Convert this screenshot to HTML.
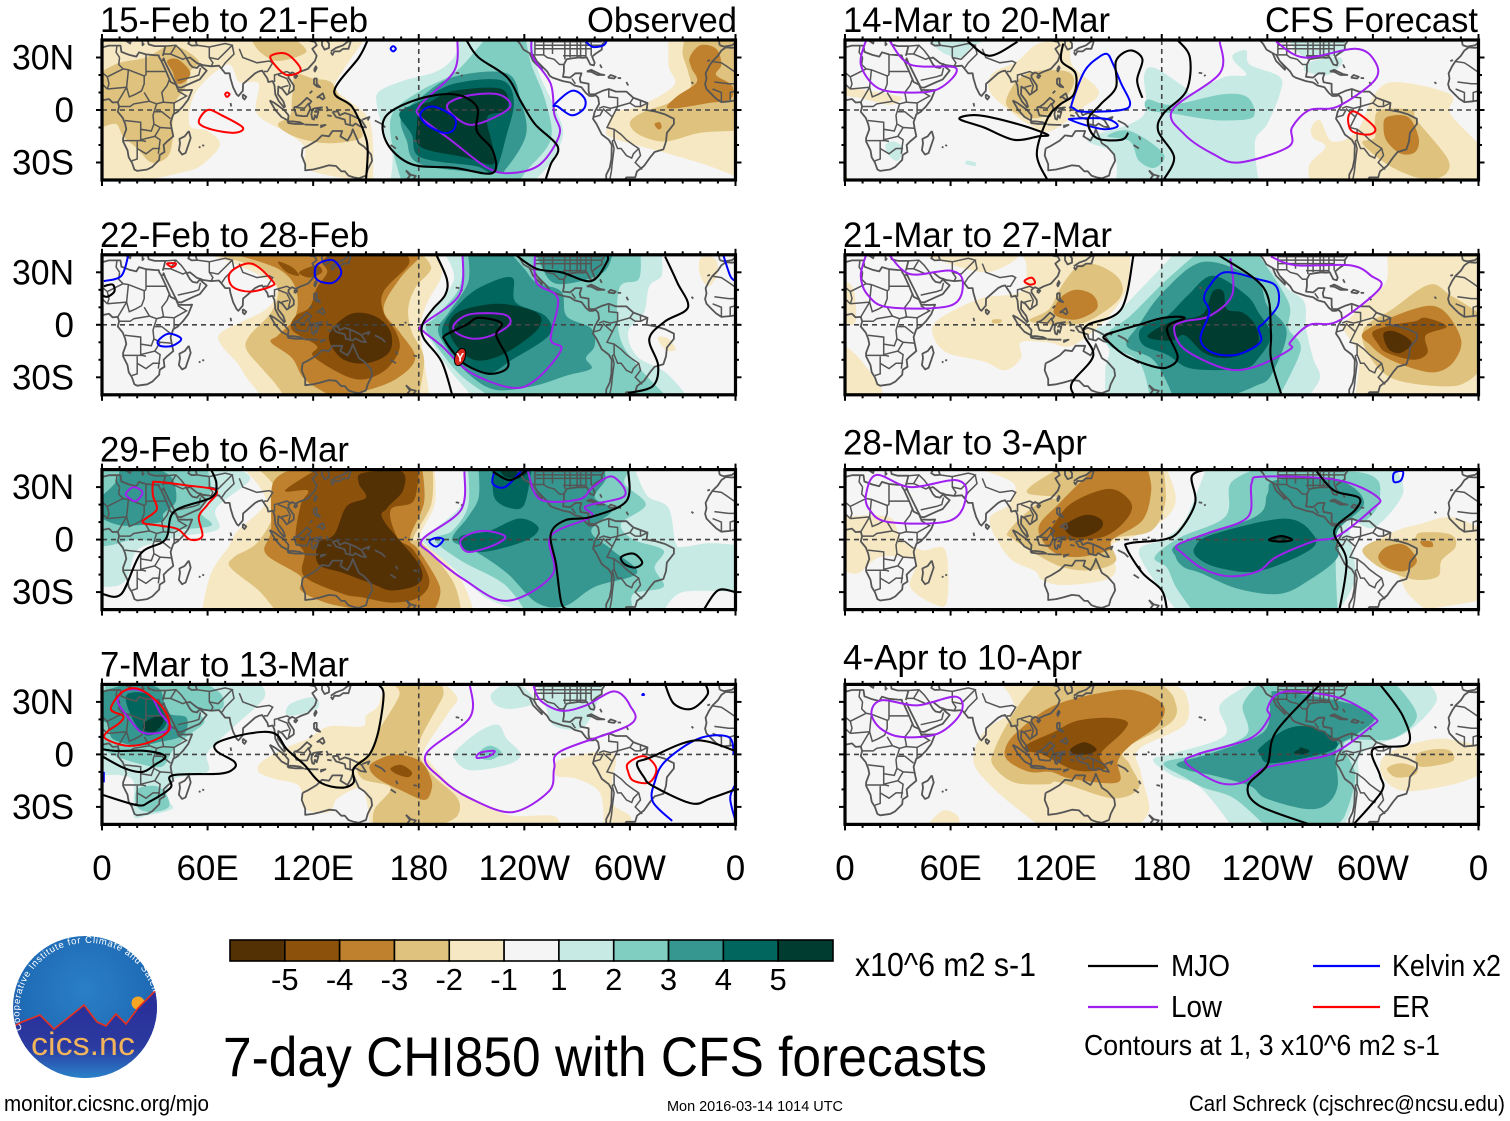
<!DOCTYPE html>
<html lang="en">
<head>
<meta charset="utf-8">
<title>7-day CHI850 with CFS forecasts</title>
<style>
html,body{margin:0;padding:0;background:#fff}
svg{display:block}
text{font-family:"Liberation Sans",sans-serif;fill:#000}
</style>
</head>
<body>
<svg id="chart" xmlns="http://www.w3.org/2000/svg" width="1510" height="1121" viewBox="0 0 1510 1121">
  <rect width="1510" height="1121" fill="#fff"/>
  <g id="panels"></g>

  <g id="colorbar"></g>
  <text x="855" y="976" font-size="33" textLength="181" lengthAdjust="spacingAndGlyphs">x10^6 m2 s-1</text>

  <g>
    <line x1="1088" y1="966" x2="1158" y2="966" stroke="#000" stroke-width="2.2"/>
    <text x="1171" y="976" font-size="31" textLength="59" lengthAdjust="spacingAndGlyphs">MJO</text>
    <line x1="1313" y1="966" x2="1380" y2="966" stroke="#0000ff" stroke-width="2.2"/>
    <text x="1392" y="976" font-size="31" textLength="109" lengthAdjust="spacingAndGlyphs">Kelvin x2</text>
    <line x1="1088" y1="1007" x2="1158" y2="1007" stroke="#a020f0" stroke-width="2.2"/>
    <text x="1171" y="1017" font-size="31" textLength="51" lengthAdjust="spacingAndGlyphs">Low</text>
    <line x1="1313" y1="1007" x2="1380" y2="1007" stroke="#ff0000" stroke-width="2.2"/>
    <text x="1392" y="1017" font-size="31" textLength="38" lengthAdjust="spacingAndGlyphs">ER</text>
    <text x="1084" y="1055" font-size="29" textLength="356" lengthAdjust="spacingAndGlyphs">Contours at 1, 3 x10^6 m2 s-1</text>
  </g>

  <text x="223" y="1076" font-size="56" textLength="764" lengthAdjust="spacingAndGlyphs">7-day CHI850 with CFS forecasts</text>
  <text x="4" y="1111" font-size="22" textLength="205" lengthAdjust="spacingAndGlyphs">monitor.cicsnc.org/mjo</text>
  <text x="667" y="1111" font-size="14.5" textLength="176" lengthAdjust="spacingAndGlyphs">Mon 2016-03-14 1014 UTC</text>
  <text x="1189" y="1111" font-size="22" textLength="316" lengthAdjust="spacingAndGlyphs">Carl Schreck (cjschrec@ncsu.edu)</text>

  <g>
    <defs>
      <clipPath id="logo-clip"><ellipse cx="85" cy="1007" rx="72" ry="71"/></clipPath>
      <radialGradient id="logo-sky" cx="50%" cy="40%" r="60%">
        <stop offset="0" stop-color="#2a7fc6"/>
        <stop offset="0.7" stop-color="#1f6cb6"/>
        <stop offset="1" stop-color="#2f52a8"/>
      </radialGradient>
      <linearGradient id="logo-ground" x1="0" y1="0" x2="0" y2="1">
        <stop offset="0" stop-color="#2a2c96"/>
        <stop offset="0.65" stop-color="#2b3aa0"/>
        <stop offset="1" stop-color="#2a86cc"/>
      </linearGradient>
      <path id="logo-arc" d="M 22 1030 A 68 68 0 0 1 153 992"/>
    </defs>
    <g clip-path="url(#logo-clip)">
      <rect x="10" y="930" width="150" height="150" fill="url(#logo-sky)"/>
      <circle cx="138" cy="1003" r="6.5" fill="#f6a623"/>
      <path d="M10 1028 L22 1022 L40 1015 L54 1029 L68 1018 L84 1005 L97 1022 L106 1026 L116 1014 L126 1024 L138 1008 L160 986 L160 1080 L10 1080 Z" fill="url(#logo-ground)" stroke="#e8301f" stroke-width="1.6"/>
    </g>
    <text font-size="9.5" style="fill:#fff"><textPath href="#logo-arc" textLength="232">Cooperative Institute for Climate and Satellites</textPath></text>
    <text x="83" y="1055" text-anchor="middle" font-size="32" textLength="104" lengthAdjust="spacingAndGlyphs" style="fill:#f2b45a">cics.nc</text>
  </g>
</svg>

<script>
// ---------- axis labels and categories ----------
const panelTitles = ["15-Feb to 21-Feb","22-Feb to 28-Feb","29-Feb to 6-Mar","7-Mar to 13-Mar","14-Mar to 20-Mar","21-Mar to 27-Mar","28-Mar to 3-Apr","4-Apr to 10-Apr"];
const lonTicks = [0,60,120,180,240,300,360];
const lonTickLabels = ["0","60E","120E","180","120W","60W","0"];
const latTicks = [30,0,-30];
const latTickLabels = ["30N","0","30S"];
const colorLevels = [-6,-5,-4,-3,-2,0,2,3,4,5,6];
const colorbarLabels = ["-5","-4","-3","-2","-1","1","2","3","4","5"];
const fillColors = {"-5":"#543005","-4":"#8c510a","-3":"#bf812d","-2":"#dfc27d","-1":"#f6e8c3","0":"#f5f5f5","1":"#c7eae5","2":"#80cdc1","3":"#35978f","4":"#01665e","5":"#003c30"};

// ---------- map outlines, lon/lat ----------
const coastlines = [
[0,5.5,4,6.3,6,4.3,9,4.5,9.7,2,9,-1,11.8,-4.5,13.2,-8,13.8,-11,12,-16,12,-18,14.5,-23,15.2,-27,17,-30,18.4,-34,20,-34.8,25.7,-34,28.5,-32.5,32.5,-28.5,32.8,-25.7,35.5,-24,35,-20,37,-18,40.5,-15,39.5,-10,39,-7,40.5,-2.5,43,-1,46,2,49,6,51.2,11.5,48,11.3,43.3,11.5,42,14.5,39,16,37.3,20,36.5,22,34,27.5,33.5,28.5,32.5,30,32.3,31.2,30,31.3,25,31.8,21,33,19.5,30.5,15.5,31.5,11,33.2,10.5,36.8,4,36.8,0,35.8],
[360,5.5,357,5,352,4.5,349,6.5,346.5,9,343.5,12,342.7,14.7,343.5,18,343,21,345,25,347,28,350,31,352,34,354.5,35.8,358,35.5,360,35.8],
[34.5,28,35,29.5,36,27,39,21,41,17,43,13,45,12.8,52,16,55.5,17.5,59.5,22.5,56.5,25,56,26.3,54,24,51.5,24.5,50,26,48,29.5,50,30,54,26.8,57.5,25.6,62,25,66.5,25.3,68,23.5,70,21,72.5,21,73,18,74.5,13,76.5,9,77.5,8,80,11,80.2,15,82.5,17,87,21,89,22,91,22.5,94,18,94.5,16,97,16.5,98,14,98.5,9,100.5,5,103.5,1.5,104,2,103,5,100,9,100.2,13.4,102.5,12,105,8.7,109,11.5,109,14,106,18.5,106,20,108,21.5,110,20.5,113,22,117,23.5,121,28,122,31,119.5,35,122,37,121,39,118,39.5],
[125,40,125,37,126.5,34.5,129,35.5,129,38,127.5,40],
[130,33,131,31.5,132,33.5,135,33.5,137,35,140,35,141,38,141.5,40,139.5,39,137,37,133,35.5,130,33.5],
[26,40,26.5,37.5,30,36.5,36,36.5,35,32.5,34.5,31],[13,40,16,38,16.5,40],[23,40,23,37,24,38],[50,40,49,38,51,36.8,54,37,53,40],
[80,9,82,7.5,81,6,80,7,80,9],[120.5,23,121.5,25,122,24,121,22,120.5,23],[109,19,110,20,111,19.5,110,18.3,109,19],
[49.3,-12,50.4,-16,47.5,-24.5,45.5,-25.5,43.7,-23,44.3,-19,44,-16.5,47,-15,49.3,-12],
[120.5,18,122,18,122,15,124,13,122,13.5,120.5,15,120.5,18],[122,7,125.5,9.5,126.5,7,125.5,6,123.5,7.5,122,7],[118,9.5,119.5,11],
[109,1.5,111,2,113,3.5,116.5,7,119,5,117.5,3,118.5,1,116.5,-3.5,114,-3.5,110.5,-3,109,1.5],
[95.3,5.5,98,4,103.5,0,106,-3,105.7,-6,102,-4,98.5,0,95.3,5.5],
[105.3,-6.5,108.5,-6.5,112.5,-7,114.5,-8,110,-8,106,-7.5,105.3,-6.5],
[115,-8.3,120,-8.5,123,-8.5],[124,-9,127,-8.5,124,-10],
[119.5,0.5,121,1,125,1.5,122,0,121,-1,123,-1,122,-4.5,121,-3,120.5,-5.5,119.5,-5,119,-2.5,119.5,0.5],
[127.5,2,128.5,0,127.5,-0.5],[128,-3,130.5,-3.5],
[131,-1,134,-0.8,135,-3,138,-1.7,141,-2.7,145,-4.5,147.5,-6,150,-10,147,-9.5,144,-7.7,142.5,-9,138.5,-8,138,-5.5,133,-4,132,-2.5,131,-1],
[148,-5.5,152,-4,151,-6],[155,-6,159,-8,161,-10],[167,-15,168,-17],[164,-20,167,-22],[177,-17.5,179,-18],
[204,19.5,205,20],[201,21.3,203,21],[57,-20,58,-20.5],[55,-21,56,-21.5],[73,4,73.5,2],[172,1,173,1.5],
[114,-22,117,-20.5,122,-17.5,125,-14.5,129,-15,131,-12,136.5,-12,135.5,-15,139.5,-17.5,141.5,-14,142.5,-11,144,-14.5,146,-19,149,-21,153,-25.5,153.5,-29,151,-34,150,-37.5,146,-39,143,-38.5,140,-37.5,138,-35,136,-35,133,-32,129,-31.6,124,-33,120,-34,115.5,-34.5,115.5,-31,113.5,-26,114,-22],
[172.7,-34.5,175.5,-37,178.3,-37.7,177,-39.5,175,-40,173.8,-39,175,-37.5,172.7,-34.5],
[235.5,40,237.5,38,239.5,34.5,243,32.5,245,28,250,23,250,24.5,247,28,245.2,31.5,247,28,250,25,253,22,254.5,19.5,256,18.5,262,16.5,266,15.7,268.5,14,272.5,13,274,11,275,9.7,277,8,279,8,280.5,8.5,282,7,282.5,3.5,280,-1,279,-5,281,-8,284,-14,288,-17,289.7,-20,289.5,-28,288.5,-33,286.5,-37,286.5,-40],
[277,9,276.5,11,276.5,15,272,15.8,271.5,18,272.5,21,269,21,266,18.5,262,19,262.5,22,262.5,26,264,29,267,29.5,271,30,273,29.8,275.5,30,277.5,26,279.5,25.5,280,27,278.5,30.5,281,32.5,284,34.5,284,37,286,40],
[277,9,280,9,284.5,11,288,12,292,10.5,298,10.5,302,7,306,5.5,310,4,309.5,0,315,-1,320,-2.5,325,-5,325,-8,321,-13,320.5,-18,319,-22.5,314,-24,311.5,-27,308,-32,304,-35,303,-38.5,298,-38.5,297,-40],
[275.5,22,278,23,283,20.5,285.5,20,281.5,20,278,21.8,275.5,22],[287.5,18.5,289,20,292,19,291,18,287.5,18.5],[293,18.3,295,18.2],[283,26,284,24],[298,16,299,14],
[351,37,353.5,36.2,358,37,360,38.5],[350.5,40,351,37],[344,28,345.5,28.5],[335,16,336,15]
];
const borders = [
[25,31.5,25,20],[25,22,36.5,22],[25,20,24,19.5,15,23,12,23.5],[10,30,9.5,26,12,23.5],[8.5,37,8,33,10,30],[12,23.5,3,19,0,21.5],
[24,19.5,24,15,22.5,11,19,9,15.5,7.5,14,13,15,23],[24,10,27,5,31,3.5,35,4.5,34,10,37,14,38.5,18],[3,12,4,15,3,19],[3,12,14,13],[9,4.5,14,13],
[9.5,2,16,2,18,3.5,27,5],[31,3.5,29,-3,29.5,-8,28,-12,22,-11,22,-7,13,-6],[12,-17.5,23,-17.5,25,-18],[22,-11,22,-17,30,-15,33,-10,29.5,-8],
[30,-1,34,-1,39,-5],[33,-10,40,-10.5],[34,4.5,41,4,41,-2],[41,4,48,8,43,11],[30,-15,33,-17,32,-25],[20,-18,20,-28,17,-29],[20,-22,25,-25,29,-22,33,-22],
[0,21.5,0,15,3,12],[0,15,0,5.5],[360,21.5,355,25,352,27,347,27.7],[360,15,356,15,348,16],[347,12,352,10,352,5],[357,5,357,10,360,11],
[35,32,39,32,46,29,48,30],[36,36.5,42,37,45,34,48,30],[39,32,42,37],[43,17,52,19,55,20,56,24],[61,36,61,30,63,27,62,25],[61,36,70,38,74,37,70,33,66,29,61,30],
[74,37,75,32,70,27,68,24],[78,35,80,30,88,27,95,28,97,27,94,22,92,22],[98,16,98,20,100,20.5,105,22,107,21],[100,20,105,18,107,14,106,10],[102,13,106,14],[54,37,61,36],[110,1.5,115,1,117.5,4],[141,-2.7,141,-9],
[243,32.5,245,31.5,251,31.5,253,30,257,29,260,26,262.5,26],[246,37,284,37],[246,35,278,35],[262,31,275,31],[246,32,246,40],[251,31.5,251,40],[256,32,256,40],[263,29,263,40],[266,30,266,40],[270,30,270,40],[272,30,272,40],[275,30,275,40],[278,31,278,40],[246,39,284,39],
[267,18,269,15],[282.5,1,285,2,289,1,293,2,293,7,288,7.5,288,11.5],[279.5,-4,283,-3,285,0.5,290,-4,287,-10,291,-11,291,-17,289.7,-18],[293,2,300,4,302,7],[293,2,290,-4],
[291,-11,295,-14,298,-17,302,-20,305,-22,306,-26,303,-30,307,-34],[291,-17,293,-22,295,-22,298,-26,301,-27.5,302,-25,305,-22],[290,-18,291,-22,290,-30,289.5,-35,288.5,-40],[300,4,303,2,306,2,306,5.5],[310,4,306,2]
];

// ---------- panel 1: 15-Feb to 21-Feb ----------
const p1Fills = [
[-1,[0,40,0,-40,26,-40,44,-36,56,-32,67,-20,60,-12,50,-9,51,5,58,16,72,26,78,16,89,15,88,-2,105,-13,115,-21,116,-33,132,-38,149,-40,154,-40,154,-19,151,-4,138,7,132,13,138,24,149,40]],
[-1,[360,40,322,40,322,25,325,14,305,2,292,-1,287,-10,290,-16,322,-25,345,-32,360,-38]],
[-2,[0,22,10,27,25,30,40,37,55,28,50,22,47,12,42,5,40,-8,40,-18,37,-27,28,-30,20,-22,12,-15,8,-8,0,-10]],
[-2,[85,40,110,40,116,33,100,28,90,33]],
[-2,[100,-8,107,-3,108,8,110,20,120,18,130,16,135,8,141,2,146,-8,147,-16,130,-19,115,-17,105,-13]],
[-2,[331,40,360,40,360,-12,340,-13,320,-18,305,-14,300,-7,308,-1,322,4,334,12,333,22,330,32]],
[-3,[334,30,340,37,349,35,352,26,349,20,358,14,357,6,345,4,326,1,321,2,327,8,338,16,335,24]],
[-3,[314,-8,317,-7,318,-10,316,-11]],
[-3,[37,28,43,29,50,22,48,17,43,15,40,22]],
[1,[158,11,172,17,190,22,200,30,203,40,245,40,248,22,258,0,262,-14,255,-30,246,-40,164,-40,165,-25,160,-12,156,4]],
[2,[165,-2,181,11,200,21,214,36,217,40,241,40,244,26,252,5,255,-17,241,-35,238,-40,170,-40,165,-21]],
[3,[170,-4,181,7,200,19,230,21,238,5,241,-14,230,-33,222,-36,181,-31,173,-17]],
[4,[169,-2,181,5,200,15,227,17,234,5,230,-14,223,-35,212,-32,181,-27,176,-14]],
[5,[181,2,187,5,200,11,227,12,230,0,219,-4,222,-21,222,-31,206,-27,181,-21,179,-8]]
];
const p1Mjo = [
[151,40,146,30,132,11,142,2,149,-13,151,-23,150,-40],
[161,-4,179,6,200,9,213,2,213,-12,222,-23,222,-36,200,-33,176,-31,162,-19,161,-4],
[207,40,214,30,230,19,238,5,246,-8,259,-21,255,-31,252,-40]
];
const p1Low = [
[202,40,200,22,181,3,181,-4,198,-17,219,-33,233,-36,249,-31,260,-14,257,-2,255,15,245,30,244,40],
[196,2,207,8,225,9,232,2,219,-6,207,-8,196,2]
];
const p1Kelvin = [
[181,-2,188,2,200,-4,200,-11,194,-13,184,-8,181,-2],
[257,3,267,11,274,7,274,1,267,-3,259,2,257,3],
[164,35,165.5,36.5,167,35,165.5,33.5,164,35],
[275,39,279,36,285,37,287,40]
];
const p1Er = [
[55,-7,60,0,68,-3,80,-10,75,-13,62,-11,55,-7],
[70,9,71,10,72.5,9,71,7.5,70,9],
[96,31,105,32,113,23,105,20,98,26,96,31]
];

// ---------- panel 2: 22-Feb to 28-Feb ----------
const p2Fills = [
[-1,[60,40,75,35,97,24,98,15,92,8,80,2,67,-5,68,-12,77,-22,82,-30,90,-40,186,-40,183,-20,181,-5,182,5,186,15,193,28,191,40]],
[-1,[316,-7,322,-8,326,-14,322,-15,318,-12]],
[-1,[340,38,348,38,350,30,345,22,340,28]],
[-2,[63,40,79,36,93,30,100,20,96,7,84,-6,82,-14,91,-25,98,-33,103,-40,180,-40,183,-19,176,-4,174,9,178,21,187,32,182,40]],
[-3,[76,40,100,32,110,21,110,5,100,-6,96,-10,108,-19,115,-31,129,-40,148,-38,167,-31,178,-19,169,-4,160,9,169,26,180,38,180,40]],
[-4,[130,40,173,40,174,34,160,19,160,7,167,-4,169,-14,162,-25,150,-31,138,-29,120,-18,122,-12,108,-3,110,5,118,10,122,21,128,30,125,36]],
[-4,[100,36,108,33,112,28,105,30]],
[-4,[112,30,122,34,125,30,118,27]],
[-5,[141,6,155,5,164,-4,163,-16,150,-22,136,-19,129,-6]],
[1,[195,40,200,26,189,9,182,0,186,-8,197,-25,207,-37,209,-40,332,-40,320,-27,304,-18,299,-4,308,7,311,22,318,28,318,40]],
[2,[205,40,203,21,190,5,184,-2,193,-16,204,-29,219,-40,320,-40,304,-23,294,-6,294,21,305,26,306,40]],
[3,[208,40,208,24,197,7,191,-2,195,-12,207,-27,223,-37,245,-35,264,-29,278,-25,275,-19,280,-12,278,-2,264,5,261,19,247,24,240,32,233,40]],
[3,[247,40,290,40,285,30,268,24,255,25]],
[4,[216,22,233,27,235,13,252,5,254,-6,233,-20,219,-28,204,-21,195,-10,194,0,204,13]],
[5,[197,0,204,8,226,12,247,7,248,-2,233,-14,219,-20,209,-19,200,-10]]
];
const p2Mjo = [
[190,40,196,26,195,17,188,9,182,0,183,-8,193,-21,199,-40],
[195,-6,207,0,214,4,227,1,224,-6,230,-18,230,-25,220,-28,207,-23,200,-16,195,-9,195,-6],
[235,40,247,32,261,30,278,25,287,36,287,40],
[320,39,327,24,333,10,320,2,311,-8,316,-23,313,-35,299,-39],
[1,22,6,23,7,19,3,16,0,17]
];
const p2Low = [
[205,40,203,17,182,0,183,-4,193,-12,209,-27,233,-36,247,-31,261,-14,255,-8,259,15,247,24,246,40],
[200,0,209,6,228,6,232,1,224,-5,212,-8,202,-5,200,0]
];
const p2Kelvin = [
[32,-9,38,-5,45,-8,40,-12,33,-12,32,-9],
[122,34,131,37,136,30,131,24,122,26,122,34],
[15,40,11,28,1,25],
[353,40,357,28,360,25]
];
const p2Er = [
[73,30,85,35,97,25,96,22,84,19,74,22,73,30],
[37,35,42,35,40,33,37,35]
];
const p2Storm = [203.5,-18.4];

// ---------- panel 3: 29-Feb to 6-Mar ----------
const p3Fills = [
[-1,[81,40,93,22,77,5,72,-4,62,-19,57,-40,211,-40,204,-23,189,-6,180,0,189,20,189,40]],
[-2,[89,40,98,30,98,15,88,-2,75,-10,73,-16,89,-29,98,-40,204,-40,199,-23,182,-2,177,1,187,20,188,40]],
[-3,[108,40,97,32,96,5,93,-8,113,-21,113,-29,127,-36,146,-40,189,-40,192,-27,180,-6,175,1,183,21,182,40]],
[-4,[122,40,104,28,117,28,113,20,110,1,115,-8,115,-21,137,-31,148,-33,165,-36,180,-33,186,-23,177,-6,168,1,164,17,177,22,180,40]],
[-5,[146,32,148,38,170,39,171,28,162,18,160,11,180,-14,180,-25,165,-29,153,-25,137,-19,123,-14,123,-2,132,3,139,19,150,24]],
[1,[0,40,77,40,84,34,65,18,66,6,45,2,34,-1,20,-6,15,-20,10,-26,0,-27]],
[2,[0,40,60,40,62,28,56,16,62,8,40,5,34,-1,18,0,6,-3,0,-4]],
[3,[10,40,32,40,40,35,42,22,35,15,33,10,12,8,0,12,0,25,8,33]],
[1,[205,40,205,21,184,2,182,-1,197,-14,218,-33,237,-40,310,-40,320,-40,330,-30,360,-30,360,-3,345,-2,331,-4,326,-2,322,18,310,25,303,40]],
[2,[208,40,208,19,199,5,189,0,204,-12,228,-25,240,-40,302,-40,302,-31,319,-27,314,-16,319,-6,302,0,295,9,309,20,297,32,301,40]],
[3,[214,40,214,24,208,13,199,0,211,-6,230,-19,247,-36,263,-38,280,-27,304,-19,290,-6,278,5,290,17,280,24,286,34,285,40]],
[4,[222,40,223,24,232,18,240,20,244,40]],
[4,[204,2,220,5,237,12,248,7,242,0,223,-6,211,-7,204,-4]],
[5,[226,40,229,36,237,35,244,40]]
];
const p3Mjo = [
[0,-31,11,-31,22,-8,36,0,41,16,62,24,65,32,62,40],
[222,39,232,34,242,40],
[299,40,298,22,278,13,263,11,255,3,258,-14,261,-36,265,-40],
[295,-10,302,-8,307,-13,303,-16,297,-14,295,-10],
[342,-40,350,-29,360,-30]
];
const p3Low = [
[14,27,18,30,23,27,19,22,14,25,14,27],
[206,39,204,17,182,0,187,-8,206,-23,230,-35,256,-20,255,2,278,13,275,19,297,25,290,36,279,30,271,23,249,23,242,39],
[204,0,216,5,229,2,223,-3,208,-7,204,0]
];
const p3Kelvin = [
[186,-1,190,1,194,0,190,-4,186,-1],
[223,39,222,32,229,30,238,39]
];
const p3Er = [
[29,32,31,33,48,31,65,28,60,20,55,13,57,2,50,0,43,6,33,8,23,10,31,17,29,25,29,32]
];

// ---------- panel 4: 7-Mar to 13-Mar ----------
const p4Fills = [
[-1,[160,40,157,28,150,22,148,16,129,16,117,9,105,4,91,-4,89,-10,98,-14,112,-18,115,-31,129,-33,134,-25,148,-20,152,-40,260,-40,256,-35,233,-35,219,-29,200,-19,186,-4,183,2,197,24,202,32,195,40]],
[-1,[260,-3,290,1,290,-15,290,-28,300,-35,300,-40,285,-40,283,-22,270,-14,258,-12]],
[-2,[164,40,169,34,157,13,152,0,145,-5,148,-14,164,-19,155,-31,154,-40,193,-40,202,-35,202,-25,188,-12,180,0,181,9,190,26,194,34,193,40]],
[-3,[152,-8,155,-4,167,0,181,-4,187,-14,187,-21,183,-26,171,-21,157,-14]],
[-4,[164,-8,170,-6,176,-10,174,-13,167,-11]],
[1,[0,40,90,40,92,32,74,15,60,1,60,-10,41,-14,37,-25,40,-31,25,-35,18,-35,18,-16,11,-12,0,-12]],
[1,[106,28,115,32,122,32,122,26,106,22]],
[1,[221,34,228,40,238,40,246,30,233,26,224,28]],
[1,[247,40,285,40,280,26,275,17,268,14,256,17,252,28]],
[1,[202,3,214,13,225,17,230,9,238,0,230,-6,209,-9,200,-2]],
[2,[215,2,221,5,227,1,221,-3,215,-2]],
[2,[2,40,60,40,68,34,68,26,56,24,58,18,48,10,40,2,34,-7,20,-5,8,-1,0,3,0,30]],
[2,[20,-20,30,-18,36,-22,38,-30,28,-33,20,-30]],
[3,[13,40,32,38,37,24,48,21,46,11,32,7,20,5,6,9,4,17,0,19,0,36]],
[4,[14,34,27,34,36,22,35,15,25,11,17,21]],
[5,[24,18,32,22,35,19,30,13,24,14]]
];
const p4Mjo = [
[0,-1,13,-8,23,-10,30,-6,36,-1,25,2,8,2,0,3],
[0,-23,20,-29,27,-27,39,-19,40,-12,67,-11,75,-8,75,-4,65,2,66,7,84,12,98,12,105,3,115,-6,124,-16,136,-19,143,-16,143,-8,152,0,157,13,160,34,157,40],
[360,2,337,8,311,-2,304,-5,308,-13,313,-18,335,-28,346,-25,360,-20],
[320,40,325,29,335,26,344,34,343,40]
];
const p4Low = [
[12,36,20,37,28,33,33,24,39,15,30,12,22,13,15,21,9,30,12,36],
[209,40,209,21,184,0,193,-14,209,-25,233,-33,254,-21,257,-8,261,2,300,17,300,28,291,36,275,28,261,25,249,31,245,40],
[213,-2,215,1,223,2,220,-1,213,-2]
];
const p4Kelvin = [
[324,-38,313,-27,314,-16,320,-4,339,9,356,10,359,0],
[360,-17,357,-25,360,-38],
[1,-10,1,-16],
[307,34,307.6,34.6,308,34,307,34]
];
const p4Er = [
[5,26,12,36,22,37,35,26,38,14,27,7,14,5,2,9,3,13,10,18,12,22,5,26],
[299,-5,308,-1,315,-8,311,-16,302,-15,299,-10,299,-5]
];

// ---------- panel 5: 14-Mar to 20-Mar ----------
const p5Fills = [
[-1,[84,21,98,28,110,38,129,40,129,26,143,13,143,7,136,2,117,-12,104,-8,93,0,82,11]],
[-1,[0,13,8,12,30,8,32,6,25,3,8,7,0,8]],
[-1,[0,-37,3,-40,0,-40]],
[-1,[265,-10,270,-6,277,-18,291,-12,301,9,313,16,344,9,344,-2,360,-19,360,-40,264,-40,264,-31,273,-21,266,-16]],
[-2,[92,7,98,17,108,22,126,22,130,15,122,3,112,-4,103,-4,93,1]],
[-2,[301,-8,304,0,322,0,325,-6,342,-27,342,-36,334,-40,323,-38,308,-31,294,-19,301,-16]],
[-3,[306,-10,308,-4,320,-4,326,-16,324,-24,316,-25,308,-18]],
[1,[221,32,228,34,230,26,247,19,247,9,240,-8,233,-18,235,-40,154,-40,153,-25,138,-18,143,-14,162,-8,171,0,170,20,176,24,193,13,197,10,216,19,228,20,221,28]],
[1,[69,-29,74,-30,74,-32,69,-31]],
[1,[23,-20,28,-18,33,-22,30,-29,25,-26]],
[1,[262,26,270,29,281,30,282,26,274,20,262,22]],
[1,[252,40,285,40,282,32,262,30]],
[1,[47,40,80,40,72,36,66,30,57,32,50,37]],
[2,[172,6,186,3,215,9,229,7,232,-4,216,-6,204,-5,186,-2,172,0]],
[2,[149,-15,162,-12,181,-25,176,-33,167,-29,162,-18]]
];
const p5Mjo = [
[69,40,82,31,98,39],
[124,38,123,28,131,21,130,9,122,3,115,-5,109,-25,115,-40],
[65,-5,76,-3,98,-8,115,-14,110,-15,96,-17,79,-10,65,-5],
[161,-13,157,-17,143,-16,138,-6,145,3,154,13,154,28,162,34,169,29,166,17,169,7],
[189,40,196,30,194,11,181,-2,178,-12,187,-27,181,-40]
];
const p5Low = [
[25,40,37,26,63,24,53,12,34,10,18,13,9,26,12,40],
[213,39,213,21,186,0,193,-14,209,-25,224,-30,252,-21,254,-10,264,0,280,2,301,17,301,28,290,35,261,30,245,39]
];
const p5Kelvin = [
[129,4,136,22,144,30,149,32,152,27,157,15,162,4,157,0,136,-1,130,1,129,4],
[129,-5,148,-5,155,-9,148,-11,138,-9,129,-6,129,-5]
];
const p5Er = [
[286,-4,290,-1,301,-10,298,-14,288,-12,286,-4]
];

// ---------- panel 6: 21-Mar to 27-Mar ----------
const p6Fills = [
[-1,[50,-6,53,3,77,15,100,19,103,34,100,40,162,40,160,20,148,3,129,-12,115,-10,100,-10,100,-19,91,-26,79,-21,58,-16]],
[-1,[0,25,5,20,6,2,0,0]],
[-1,[0,-12,8,-19,20,-35,21,-40,0,-40]],
[-1,[40,40,100,40,92,34,80,30,65,33,50,38]],
[-1,[283,0,288,5,301,17,308,26,308,40,342,40,360,40,360,-40,290,-40,292,-18,284,-4]],
[-2,[105,3,116,9,123,22,133,34,144,34,156,26,156,15,138,2,122,0,110,1]],
[-2,[84,3,89,3,88,1,84,1]],
[-2,[295,-2,311,9,332,23,344,17,360,7,360,-27,346,-35,312,-31,297,-16]],
[-3,[119,6,122,15,131,20,141,17,143,9,131,3]],
[-3,[295,-4,323,9,339,9,350,-8,346,-21,336,-27,323,-25,308,-19,299,-12]],
[-4,[300,-4,312,0,324,2,330,4,342,-1,330,-6,331,-16,323,-20,308,-16,303,-11]],
[-5,[306,-5,313,-4,322,-10,316,-16,309,-14]],
[1,[157,9,181,34,186,40,236,40,250,22,261,13,262,-2,266,-19,270,-30,264,-40,148,-40,148,-25,150,-14,143,-3,148,0]],
[2,[162,5,181,24,199,40,235,40,252,13,252,-2,259,-14,247,-40,173,-40,167,-21,150,-12,150,-4]],
[3,[167,0,181,19,204,36,233,26,240,11,251,-4,242,-29,233,-35,221,-40,186,-40,181,-29,174,-19,160,-12]],
[4,[171,0,183,5,195,17,209,28,228,17,235,7,242,-6,235,-19,226,-25,197,-25,183,-17,170,-12,167,-5]],
[5,[173,-5,186,2,203,6,209,19,215,19,217,9,226,7,233,0,235,-10,228,-16,216,-19,204,-16,193,-6,186,-9,174,-8]]
];
const p6Mjo = [
[164,40,157,9,138,0,136,-6,141,-18,129,-33,130,-40],
[148,-6,167,0,181,4,193,4,183,-2,189,-18,184,-24,176,-24,160,-18,150,-10,148,-6],
[212,40,238,21,242,-4,242,-19,248,-40]
];
const p6Low = [
[25,40,37,29,60,31,67,24,60,11,25,10,13,17,9,28,12,40],
[219,38,220,17,207,5,193,2,187,-2,193,-14,216,-25,233,-24,253,-14,253,-10,264,0,280,2,304,21,299,28,287,34,256,34,242,39]
];
const p6Kelvin = [
[207,22,216,30,235,26,245,22,246,11,238,1,235,-2,236,-10,223,-17,209,-16,202,-8,207,7,204,15,207,22]
];
const p6Er = [
[102,25,106,27,108,24,105,23,102,25]
];

// ---------- panel 7: 28-Mar to 3-Apr ----------
const p7Fills = [
[-1,[77,40,96,32,93,20,82,11,93,-10,108,-18,112,-23,124,-26,148,-23,154,-16,150,-4,167,3,183,13,188,24,183,40]],
[-1,[0,13,25,13,32,0,44,-6,57,-6,58,-35,51,-37,37,-27,40,-12,20,-10,8,-19,0,-18]],
[-1,[297,-4,313,5,327,9,344,13,360,7,360,-35,330,-40,320,-31,313,-19,299,-12]],
[-2,[105,30,117,38,122,40,181,40,182,21,174,5,152,0,154,-12,143,-17,129,-17,115,-12,96,0,93,5,110,21,122,24,105,26]],
[-2,[294,-6,304,0,322,0,327,4,344,3,347,-4,339,-12,337,-21,325,-23,311,-19,301,-14]],
[-3,[110,7,122,21,141,40,172,40,174,28,169,11,152,0,150,-6,131,-10,117,-6]],
[-3,[303,-10,308,-4,318,-3,325,-12,318,-18,308,-16]],
[-3,[327,-1,333,-1,334,-4,329,-4]],
[-4,[119,9,129,21,150,29,162,22,161,13,148,2,127,0,117,3]],
[-5,[125,8,136,14,145,12,146,7,138,2,129,2]],
[1,[188,-40,167,-8,181,0,193,11,205,40,313,40,317,26,301,7,287,9,290,-21,281,-40]],
[2,[176,-10,190,1,216,13,219,32,233,40,295,38,304,24,296,11,280,7,280,-40,197,-40,188,-27,183,-16]],
[3,[188,-10,190,-2,233,13,240,26,245,34,280,34,295,21,280,5,280,-10,264,-23,247,-31,223,-28,202,-19,193,-16]],
[4,[199,-4,209,3,250,12,266,3,264,-6,235,-18,212,-16,200,-10]],
[5,[241,0,246,1,253,1,253,-1,245,-1]]
];
const p7Mjo = [
[205,40,197,36,199,21,190,5,181,0,162,-2,160,-5,169,-19,180,-29,183,-40],
[268,39,278,28,292,24,290,17,278,5,285,-12,281,-40],
[241,0,248,2,254,0,250,-1,245,-1,241,0]
];
const p7Low = [
[18,37,37,30,63,34,69,26,60,11,25,10,14,17,12,26,18,37],
[189,-3,207,4,229,13,231,32,238,36,280,34,303,24,299,17,280,2,266,-1,245,-10,235,-18,219,-21,204,-17,192,-8,189,-3]
];
const p7Kelvin = [
[312,38,317,39,316,34,312,33,312,38]
];
const p7Er = [];

// ---------- panel 8: 4-Apr to 10-Apr ----------
const p8Fills = [
[-1,[89,40,96,26,79,13,73,-4,84,-19,103,-35,110,-40,167,-40,173,-31,168,-10,167,3,193,17,194,34,186,40]],
[-1,[47,-40,56,-32,64,-35,65,-40]],
[-1,[304,-6,311,2,337,9,360,5,360,-12,346,-17,320,-21,308,-16]],
[-2,[325,0,335,3,344,2,345,-4,327,-7]],
[-2,[308,-8,316,-5,325,-8,323,-12,313,-13]],
[-2,[108,40,100,30,93,19,85,3,84,-6,96,-16,115,-17,122,-16,152,-25,167,-19,162,-6,159,3,186,19,187,32,180,40]],
[-3,[91,3,98,13,119,28,150,36,167,36,181,28,178,17,162,5,155,-4,155,-16,129,-14,117,-10,105,-10,93,-4]],
[-4,[104,6,119,13,131,19,148,21,160,19,158,13,145,0,148,-8,131,-9,112,0,103,2]],
[-5,[128,3,136,7,143,3,138,0,131,0]],
[1,[175,-3,188,1,216,11,213,28,230,40,332,40,336,30,320,13,301,5,292,-2,292,-19,284,-40,219,-40,202,-19,186,-12]],
[2,[181,-5,200,0,228,11,226,28,235,40,313,40,325,22,311,9,284,7,290,-12,284,-35,278,-40,238,-40,221,-25,204,-19,193,-13]],
[3,[189,-5,209,1,238,13,242,32,247,36,287,29,301,21,290,11,279,3,280,-18,273,-29,261,-31,239,-25,230,-18,209,-12,195,-9]],
[4,[236,4,252,15,268,15,280,6,270,0,242,-5,236,0]],
[5,[258,3,259,4,264,2,260,0,255,1]]
];
const p8Mjo = [
[270,40,245,13,240,-6,229,-18,235,-29,264,-40],
[304,40,317,22,320,6,300,3,304,-12,305,-21,289,-40]
];
const p8Low = [
[240,26,245,34,256,36,282,32,301,21,299,16,278,1,256,-4,238,-8,226,-16,212,-16,194,-5,200,0,230,9,241,21,240,26],
[15,24,21,31,41,28,63,33,66,24,53,12,32,10,20,15,15,24]
];
const p8Kelvin = [];
const p8Er = [];

// ---------- panel bindings ----------
const panelFills = [p1Fills,p2Fills,p3Fills,p4Fills,p5Fills,p6Fills,p7Fills,p8Fills];
const panelMjo = [p1Mjo,p2Mjo,p3Mjo,p4Mjo,p5Mjo,p6Mjo,p7Mjo,p8Mjo];
const panelLow = [p1Low,p2Low,p3Low,p4Low,p5Low,p6Low,p7Low,p8Low];
const panelKelvin = [p1Kelvin,p2Kelvin,p3Kelvin,p4Kelvin,p5Kelvin,p6Kelvin,p7Kelvin,p8Kelvin];
const panelEr = [p1Er,p2Er,p3Er,p4Er,p5Er,p6Er,p7Er,p8Er];

// ---------- rendering ----------
const NS = "http://www.w3.org/2000/svg";
const MAP_W = 633.5, MAP_H = 140;
function el(tag, attrs, parent){
  const n = document.createElementNS(NS, tag);
  for(const k in attrs){ n.setAttribute(k, attrs[k]); }
  if(parent){ parent.appendChild(n); }
  return n;
}
function panelLeft(i){ return 102 + (i >= 4 ? 743 : 0); }
function panelZero(i){ return 110 + (i % 4) * 214.8; }
function xScale(i, lon){ return panelLeft(i) + lon * MAP_W / 360; }
function yScale(i, lat){ return panelZero(i) - lat * MAP_H / 80; }
function toPoints(i, flat){
  const out = [];
  for(let k = 0; k < flat.length; k += 2){
    const lon = flat[k], lat = flat[k + 1];
    const edge = lon <= 0 || lon >= 360 || lat >= 39.9 || lat <= -39.9;
    out.push({x: xScale(i, lon), y: yScale(i, lat), sharp: edge});
  }
  return out;
}
function linePath(pts){
  return pts.map((p, k) => (k ? "L" : "M") + p.x.toFixed(1) + " " + p.y.toFixed(1)).join("");
}
function smoothPath(pts, closed){
  const n = pts.length;
  if(n < 3){ return linePath(pts); }
  const at = k => closed ? pts[(k + n) % n] : pts[Math.max(0, Math.min(n - 1, k))];
  let d = "M" + pts[0].x.toFixed(1) + " " + pts[0].y.toFixed(1);
  const last = closed ? n : n - 1;
  for(let k = 0; k < last; k++){
    const p0 = at(k - 1), p1 = at(k), p2 = at(k + 1), p3 = at(k + 2);
    const t1 = p1.sharp ? 0 : 1 / 6, t2 = p2.sharp ? 0 : 1 / 6;
    const c1x = p1.x + (p2.x - p0.x) * t1, c1y = p1.y + (p2.y - p0.y) * t1;
    const c2x = p2.x - (p3.x - p1.x) * t2, c2y = p2.y - (p3.y - p1.y) * t2;
    d += "C" + c1x.toFixed(1) + " " + c1y.toFixed(1) + " " + c2x.toFixed(1) + " " + c2y.toFixed(1) + " " + p2.x.toFixed(1) + " " + p2.y.toFixed(1);
  }
  return closed ? d + "Z" : d;
}
function contourPath(i, flat){
  const n = flat.length;
  const closed = n > 4 && flat[0] === flat[n - 2] && flat[1] === flat[n - 1];
  const pts = toPoints(i, closed ? flat.slice(0, n - 2) : flat);
  pts.forEach(p => { p.sharp = false; });
  return smoothPath(pts, closed);
}

const panelsRoot = document.getElementById("panels");
const defs = el("defs", {}, panelsRoot);

panelTitles.forEach(function(title, i){
  const left = panelLeft(i), zero = panelZero(i), top = zero - MAP_H / 2, bottom = zero + MAP_H / 2;
  const g = el("g", {}, panelsRoot);
  
  

  const clip = el("clipPath", {id: "clip-" + i}, defs);
  el("rect", {x: left, y: top, width: MAP_W, height: MAP_H}, clip);

  const map = el("g", {"clip-path": "url(#clip-" + i + ")"}, g);
  const bg = el("rect", {x: left, y: top, width: MAP_W, height: MAP_H, fill: fillColors["0"]}, map);
  
  

  const shapes = panelFills[i].slice().sort((a, b) => Math.abs(a[0]) - Math.abs(b[0]));
  shapes.forEach(function(shape){
    const p = el("path", {d: smoothPath(toPoints(i, shape[1]), true), fill: fillColors[String(shape[0])]}, map);
    
    
  });

  coastlines.forEach(function(line){
    const p = el("path", {d: linePath(toPoints(i, line)), fill: "none", stroke: "#555", "stroke-width": 1.8, "stroke-linejoin": "round"}, map);
    
    
  });
  borders.forEach(function(line){
    const p = el("path", {d: linePath(toPoints(i, line)), fill: "none", stroke: "#555", "stroke-width": 1.5}, map);
    
    
  });

  const eq = el("line", {x1: left, x2: left + MAP_W, y1: yScale(i, 0), y2: yScale(i, 0), stroke: "#444", "stroke-width": 1.6, "stroke-dasharray": "5 4"}, map);
  
  
  const dl = el("line", {x1: xScale(i, 180), x2: xScale(i, 180), y1: top, y2: bottom, stroke: "#444", "stroke-width": 1.6, "stroke-dasharray": "5 4"}, map);
  
  

  panelLow[i].forEach(function(line){
    const p = el("path", {d: contourPath(i, line), fill: "none", stroke: "#a020f0", "stroke-width": 2}, map);
    
    
  });
  panelKelvin[i].forEach(function(line){
    const p = el("path", {d: contourPath(i, line), fill: "none", stroke: "#0000ff", "stroke-width": 2}, map);
    
    
  });
  panelEr[i].forEach(function(line){
    const p = el("path", {d: contourPath(i, line), fill: "none", stroke: "#ff0000", "stroke-width": 2}, map);
    
    
  });
  panelMjo[i].forEach(function(line){
    const p = el("path", {d: contourPath(i, line), fill: "none", stroke: "#000", "stroke-width": 2.1}, map);
    
    
  });

  if(i === 1){
    const sx = xScale(i, p2Storm[0]), sy = yScale(i, p2Storm[1]);
    const storm = el("ellipse", {cx: sx, cy: sy, rx: 5, ry: 9, fill: "#d8281e", stroke: "#000", "stroke-width": 1, transform: "rotate(20 " + sx + " " + sy + ")"}, g);
    
    
    const st = el("text", {x: sx, y: sy + 4.5, "text-anchor": "middle", "font-size": 12, "font-weight": "bold", style: "fill:#fff"}, g);
    st.textContent = "Y";
    
    
  }

  // ticks
  const ticks = el("g", {stroke: "#000", "stroke-width": 2}, g);
  
  
  for(let lon = 0; lon <= 360; lon += 10){
    const major = lon % 60 === 0;
    const len = major ? 6 : 3.5;
    const x = xScale(i, lon);
    el("line", {x1: x, x2: x, y1: top - len, y2: top}, ticks);
    el("line", {x1: x, x2: x, y1: bottom, y2: bottom + len}, ticks);
  }
  for(let lat = -30; lat <= 30; lat += 10){
    const major = lat % 30 === 0;
    const len = major ? 6 : 3.5;
    const y = yScale(i, lat);
    el("line", {x1: left - len, x2: left, y1: y, y2: y}, ticks);
    el("line", {x1: left + MAP_W, x2: left + MAP_W + len, y1: y, y2: y}, ticks);
  }

  const frame = el("rect", {x: left, y: top, width: MAP_W, height: MAP_H, fill: "none", stroke: "#000", "stroke-width": 3.2}, g);
  
  

  // title: left-column panels 1-4, right-column panels 5-8
  const titleWidth = [268,269,249,249,267,269,244,239][i];
  const titleDrop = (i === 6 || i === 7) ? -7 : 0;
  const t = el("text", {x: left - 2, y: top - 8 + titleDrop, "font-size": 35, textLength: titleWidth, lengthAdjust: "spacingAndGlyphs"}, g);
  t.textContent = title;
  
  

  // latitude labels: left column only
  if(i < 4){
    latTicks.forEach(function(lat, k){
      const label = latTickLabels[k];
      const lab = el("text", {x: left - 28, y: yScale(i, lat) + 12, "font-size": 35, "text-anchor": "end"}, g);
      if(label.length > 1){
        lab.setAttribute("textLength", 62);
        lab.setAttribute("lengthAdjust", "spacingAndGlyphs");
      }
      lab.textContent = label;
      
      
    });
  }

  // longitude labels under the bottom row
  if(i % 4 === 3){
    lonTicks.forEach(function(lon, k){
      const lab = el("text", {x: xScale(i, lon), y: 880, "font-size": 35, "text-anchor": "middle"}, g);
      lab.textContent = lonTickLabels[k];
      
      
    });
  }
});

const obs = el("text", {x: 587, y: 32, "font-size": 35, textLength: 150, lengthAdjust: "spacingAndGlyphs"}, panelsRoot);
obs.textContent = "Observed";


const fc = el("text", {x: 1265, y: 32, "font-size": 35, textLength: 213, lengthAdjust: "spacingAndGlyphs"}, panelsRoot);
fc.textContent = "CFS Forecast";



// colorbar
const cb = document.getElementById("colorbar");
const cbLeft = 230, cbWidth = 603, cbTop = 940, cbHeight = 21;
const boxW = cbWidth / colorLevels.length;
const cbKeys = ["-5","-4","-3","-2","-1","0","1","2","3","4","5"];
cbKeys.forEach(function(key, k){
  const r = el("rect", {x: cbLeft + k * boxW, y: cbTop, width: boxW, height: cbHeight, fill: fillColors[key], stroke: "#000", "stroke-width": 1.6}, cb);
  
  
});
colorbarLabels.forEach(function(label, k){
  const t = el("text", {x: cbLeft + (k + 1) * boxW, y: 990, "font-size": 31, "text-anchor": "middle"}, cb);
  t.textContent = label;
  
  
});
</script>
</body>
</html>
